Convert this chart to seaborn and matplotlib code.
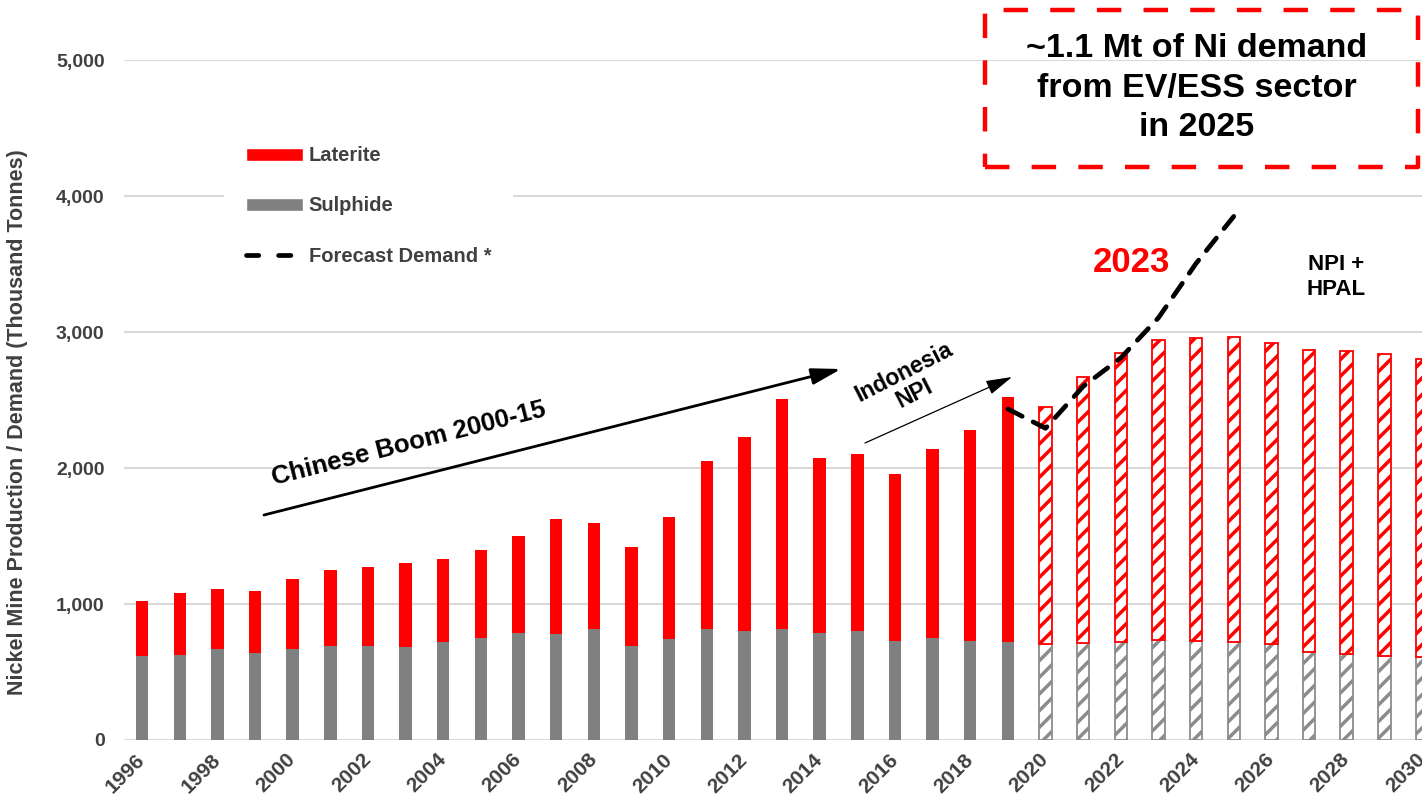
import numpy as np
import pandas as pd
import seaborn as sns
import matplotlib.pyplot as plt
from matplotlib.patches import Patch, Rectangle
from matplotlib.lines import Line2D

# Historical mine production, thousand tonnes
hist_years = list(range(1996, 2020))
hist_sulphide = [615, 627, 669, 640, 671, 691, 691, 686, 718, 747, 784, 779, 814,
                 691, 743, 814, 804, 814, 784, 804, 728, 752, 728, 718]
hist_total = [1022, 1083, 1110, 1093, 1186, 1252, 1272, 1301, 1333, 1399, 1500, 1625, 1596,
              1419, 1640, 2054, 2228, 2505, 2074, 2105, 1953, 2137, 2279, 2520]

# Forecast production
fc_years = list(range(2020, 2031))
fc_sulphide = [706, 713, 718, 733, 728, 723, 706, 645, 635, 620, 610]
fc_total = [2449, 2672, 2843, 2941, 2953, 2963, 2919, 2870, 2860, 2841, 2802]

# Forecast demand (dashed line)
demand_years = [2019, 2020, 2021, 2022, 2023, 2024, 2025]
demand = [2434, 2292, 2600, 2810, 3105, 3505, 3850]

x_ticks = list(range(1996, 2031, 2))
y_ticks = [0, 1000, 2000, 3000, 4000, 5000]

RED = '#ff0000'
GREY = '#808080'
TXT = '#404040'
W, H = 1422, 798


def fig_xy(px, py):
    # pixel position in the 1422x798 picture -> figure fraction
    return px / W, 1 - py / H


sns.set_theme(style='white')
plt.rcParams['font.family'] = ['Liberation Sans', 'DejaVu Sans']
plt.rcParams['hatch.linewidth'] = 2.5

hist = pd.DataFrame({'year': hist_years, 'sulphide': hist_sulphide, 'total': hist_total})
hist['laterite'] = hist['total'] - hist['sulphide']
fc = pd.DataFrame({'year': fc_years, 'sulphide': fc_sulphide, 'total': fc_total})
fc['laterite'] = fc['total'] - fc['sulphide']

fig = plt.figure(figsize=(14.22, 7.98), dpi=100)
ax = fig.add_axes([124 / W, 58 / H, 1298 / W, 680 / H])

bar_kw = dict(native_scale=True, width=0.33, errorbar=None, saturation=1, ax=ax)
sns.barplot(data=hist, x='year', y='sulphide', color=GREY, linewidth=0, **bar_kw)
sns.barplot(data=hist, x='year', y='laterite', bottom=hist['sulphide'].to_numpy(),
            color=RED, linewidth=0, **bar_kw)
sns.barplot(data=fc, x='year', y='sulphide', color='white', edgecolor='#8c8c8c',
            hatch='//', linewidth=1.3, **bar_kw)
sns.barplot(data=fc, x='year', y='laterite', bottom=fc['sulphide'].to_numpy(),
            color='white', edgecolor=RED, hatch='//', linewidth=1.3, **bar_kw)

sns.lineplot(x=demand_years, y=demand, color='black', lw=3.4,
             linestyle=(0, (3.4, 2.6)), dash_capstyle='round', ax=ax)

# axes styling
ax.set_xlim(1995.52, 2030.0)
ax.set_ylim(0, 5000)
ax.set_axisbelow(True)
ax.yaxis.grid(True, color='#d9d9d9', lw=1.5)
ax.xaxis.grid(False)
sns.despine(ax=ax, left=True, bottom=True)
ax.tick_params(length=0)

ax.set_yticks(y_ticks)
ax.set_yticklabels([f'{v:,}' for v in y_ticks], fontsize=14, fontweight='bold', color=TXT)
ax.tick_params(axis='y', pad=14)
ax.set_xticks(x_ticks)
ax.set_xticklabels([str(y) for y in x_ticks], fontsize=15, fontweight='bold', color=TXT)
for lab in ax.get_xticklabels():
    lab.set(rotation=45, ha='right', va='center', rotation_mode='anchor')
ax.tick_params(axis='x', pad=12)

ax.set_xlabel('')
ax.set_ylabel('Nickel Mine Production / Demand (Thousand Tonnes)', fontsize=15.5,
              fontweight='bold', color=TXT)
ax.yaxis.set_label_coords(-0.074, 0.468)

# legend
handles = [Patch(facecolor=RED, label='Laterite'),
           Patch(facecolor=GREY, label='Sulphide'),
           Line2D([], [], color='black', lw=3.4, linestyle=(0, (2.6, 4.2)),
                  dash_capstyle='round', label='Forecast Demand *')]
leg = ax.legend(handles=handles, loc='upper left', bbox_to_anchor=fig_xy(214, 114),
                bbox_transform=fig.transFigure, frameon=True, facecolor='white',
                edgecolor='none', fancybox=False, framealpha=1,
                prop={'weight': 'bold', 'size': 14.5}, labelcolor=TXT,
                handlelength=2.8, handleheight=0.6, handletextpad=0.3,
                labelspacing=1.55, borderpad=1.1)

# annotations
ax.annotate('', xy=fig_xy(841, 369), xytext=fig_xy(264, 515),
            xycoords='figure fraction', textcoords='figure fraction',
            arrowprops=dict(arrowstyle='-|>,head_length=0.9,head_width=0.25',
                            lw=2, color='black', mutation_scale=20, shrinkA=0, shrinkB=0))
fig.text(*fig_xy(409, 444), 'Chinese Boom 2000-15', rotation=14.2, ha='center',
         va='center', rotation_mode='anchor', fontsize=18.5, fontweight='bold', color='black')

ax.annotate('', xy=fig_xy(1012, 377), xytext=fig_xy(865, 443),
            xycoords='figure fraction', textcoords='figure fraction',
            arrowprops=dict(arrowstyle='-|>,head_length=0.9,head_width=0.25',
                            lw=0.9, color='black', mutation_scale=18, shrinkA=0, shrinkB=0))
fig.text(*fig_xy(909, 383), 'Indonesia\nNPI', rotation=27, ha='center', va='center',
         rotation_mode='anchor', fontsize=16.5, fontweight='bold', color='black',
         linespacing=1.05, multialignment='center')

fig.text(*fig_xy(1131, 262), '2023', ha='center', va='center', fontsize=25,
         fontweight='bold', color=RED)
fig.text(*fig_xy(1336, 277), 'NPI +\nHPAL', ha='center', va='center', fontsize=16,
         fontweight='bold', color='black', linespacing=1.2, multialignment='center')

# dashed call-out box
bx0, by0 = fig_xy(985, 167)
box = Rectangle((bx0, by0), 433 / W, 157 / H, transform=fig.transFigure, fill=False,
                edgecolor=RED, lw=3.2, linestyle=(0, (5.5, 5)), joinstyle='round')
fig.add_artist(box)
fig.text(*fig_xy(1197, 88), '~1.1 Mt of Ni demand\nfrom EV/ESS sector\nin 2025',
         ha='center', va='center', fontsize=24.5, fontweight='bold', color='black',
         linespacing=1.35, multialignment='center')

fig.savefig('out.png', dpi=100)
